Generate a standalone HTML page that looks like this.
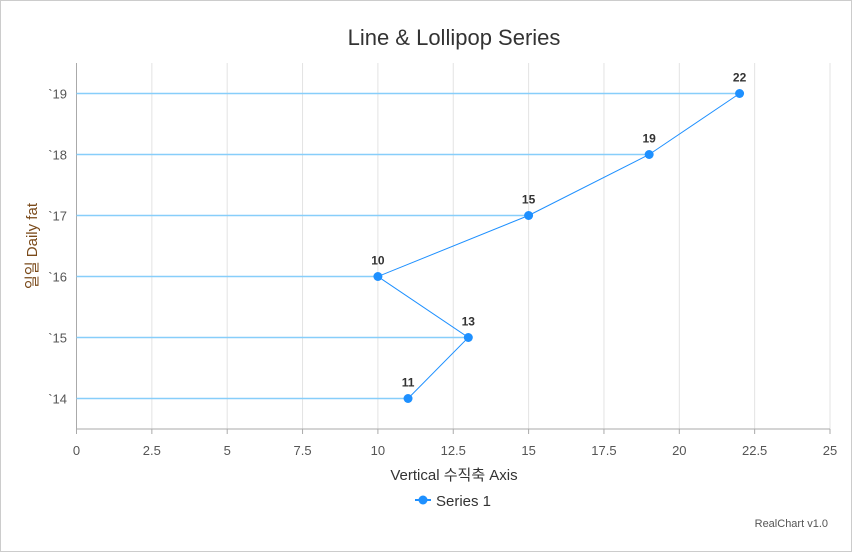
<!DOCTYPE html>
<html><head><meta charset="utf-8"><style>
body{margin:0;background:#fff}
svg{display:block;font-family:"Liberation Sans","Noto Sans CJK KR",sans-serif}
</style></head><body>
<svg id="c" width="852" height="552">
<rect x="0.5" y="0.5" width="851" height="551" fill="#fff" stroke="#ccc"/>
<text x="454" y="45" text-anchor="middle" font-size="22" fill="#333">Line &amp; Lollipop Series</text>
<g id="grid"></g><g id="xt"></g><g id="yt"></g><g id="series"></g>
<text x="454" y="480" text-anchor="middle" font-size="15" fill="#333">Vertical 수직축 Axis</text>
<text transform="translate(37,246) rotate(-90)" text-anchor="middle" font-size="15" fill="#7a4a1a">일일 Daily fat</text>
<g>
<line x1="415" y1="500" x2="431" y2="500" stroke="#1e90ff" stroke-width="2"/>
<circle cx="423" cy="500" r="4.5" fill="#1e90ff"/>
<text x="436" y="506" font-size="15" fill="#333">Series 1</text></g>
<text x="828" y="527" text-anchor="end" font-size="11" fill="#555">RealChart v1.0</text>
</svg>
<script>
const categories=["`14","`15","`16","`17","`18","`19"];
const values=[11,13,10,15,19,22];
const xTicks=[0,2.5,5,7.5,10,12.5,15,17.5,20,22.5,25];
const NS="http://www.w3.org/2000/svg";
const L=76.5,R=830,T=63,B=429;
const xs=v=>L+(v/25)*(R-L);
const band=(B-T)/categories.length;
const ys=i=>B-band*(i+0.5);
function mk(p,tag,a,txt){const e=document.createElementNS(NS,tag);for(const k in a)e.setAttribute(k,a[k]);if(txt!==undefined)e.textContent=txt;document.getElementById(p).appendChild(e);return e;}
xTicks.forEach(t=>{
 const g=mk('grid','line',{x1:xs(t),x2:xs(t),y1:T,y2:B,stroke:t===0?'#aaa':'#e3e3e3','stroke-width':1});
 
 
 const tk=mk('xt','line',{x1:xs(t),x2:xs(t),y1:B,y2:B+5,stroke:'#aaa'});
 
 
 const l=mk('xt','text',{x:xs(t),y:B+26,'text-anchor':'middle','font-size':13,fill:'#555'},String(t));
 
 
});
const ax=mk('xt','line',{x1:L,x2:R,y1:B,y2:B,stroke:'#aaa'});


categories.forEach((c,i)=>{
 const l=mk('yt','text',{x:67,y:ys(i)+5,'text-anchor':'end','font-size':13,fill:'#555'},c);
 
 
});
values.forEach((v,i)=>{
 const s=mk('series','line',{x1:L,x2:xs(v),y1:ys(i),y2:ys(i),stroke:'#87cefa','stroke-width':1.5});
 
 
});
const pl=mk('series','polyline',{points:values.map((v,i)=>xs(v)+','+ys(i)).join(' '),fill:'none',stroke:'#1e90ff','stroke-width':1});


values.forEach((v,i)=>{
 const p=mk('series','circle',{cx:xs(v),cy:ys(i),r:4.5,fill:'#1e90ff'});
 
 
 const t=mk('series','text',{x:xs(v),y:ys(i)-12,'text-anchor':'middle','font-size':12,'font-weight':'bold',fill:'#333'},String(v));
 
 
});
</script>
</body></html>
